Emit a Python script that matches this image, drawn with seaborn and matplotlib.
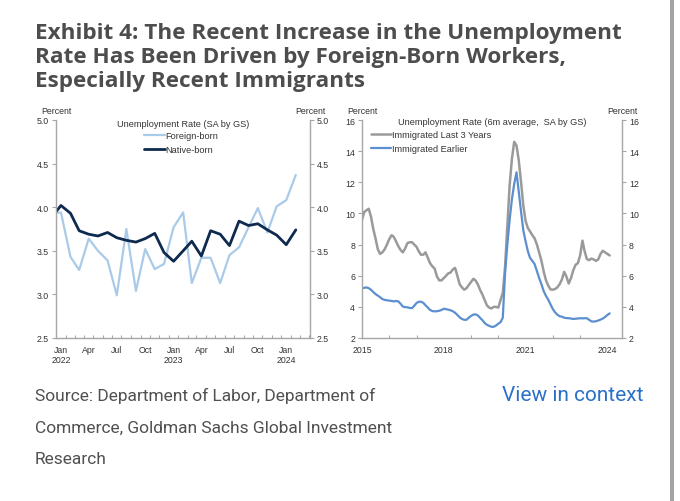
import numpy as np
import pandas as pd
import matplotlib
matplotlib.use("Agg")
import matplotlib.pyplot as plt
import matplotlib.dates as mdates
from matplotlib.patches import Rectangle
from matplotlib.ticker import FuncFormatter, FormatStrFormatter
import seaborn as sns

# ---- data: left panel (monthly, Dec 2021 - Feb 2024) ----
left_months = pd.date_range("2021-12-01", "2024-02-01", freq="MS")
foreign_born = [3.93,
                3.94, 3.43, 3.28, 3.64, 3.50, 3.39, 2.99, 3.75, 3.04, 3.52, 3.29, 3.35,
                3.77, 3.94, 3.13, 3.42, 3.42, 3.13, 3.45, 3.54, 3.77, 3.99, 3.71, 4.01,
                4.08, 4.37]
native_born = [3.88,
               4.02, 3.93, 3.73, 3.69, 3.67, 3.71, 3.65, 3.62, 3.60, 3.64, 3.70, 3.48,
               3.38, 3.50, 3.61, 3.44, 3.73, 3.69, 3.56, 3.84, 3.79, 3.81, 3.74, 3.68,
               3.57, 3.74]

# ---- data: right panel (6m average, Jan 2015 - Feb 2024) ----
right_months = pd.date_range("2015-01-01", "2024-02-01", freq="MS")
immigrated_recent = [
    9.6, 10.1, 10.2, 10.3, 9.8, 9.0, 8.4, 7.7, 7.4, 7.5, 7.7, 8.0,          # 2015
    8.35, 8.6, 8.5, 8.2, 7.9, 7.65, 7.5, 7.75, 8.1, 8.15, 8.15, 8.0,       # 2016
    7.85, 7.55, 7.35, 7.35, 7.5, 7.15, 6.8, 6.6, 6.45, 5.95, 5.7, 5.7,     # 2017
    5.85, 6.0, 6.15, 6.2, 6.4, 6.5, 6.0, 5.45, 5.25, 5.1, 5.2, 5.4,        # 2018
    5.6, 5.8, 5.7, 5.45, 5.1, 4.8, 4.45, 4.1, 3.95, 3.9, 4.0, 4.0,         # 2019
    3.95, 4.45, 4.9, 6.6, 9.2, 11.8, 13.5, 14.6, 14.35, 13.4, 12.0, 10.5,  # 2020
    9.5, 9.05, 8.85, 8.6, 8.4, 8.0, 7.5, 6.95, 6.25, 5.7, 5.35, 5.12,      # 2021
    5.1, 5.15, 5.25, 5.45, 5.75, 6.25, 5.95, 5.5, 5.85, 6.35, 6.7, 6.8,    # 2022
    7.3, 8.25, 7.6, 7.07, 7.0, 7.1, 7.05, 6.95, 7.05, 7.4, 7.6, 7.5,       # 2023
    7.4, 7.3]                                                              # 2024
immigrated_earlier = [
    5.2, 5.22, 5.25, 5.2, 5.1, 4.95, 4.82, 4.72, 4.62, 4.5, 4.45, 4.42,    # 2015
    4.4, 4.38, 4.35, 4.38, 4.35, 4.2, 4.02, 3.98, 3.97, 3.93, 3.92, 4.07,  # 2016
    4.25, 4.33, 4.33, 4.26, 4.1, 3.95, 3.8, 3.73, 3.71, 3.72, 3.75, 3.8,   # 2017
    3.88, 3.85, 3.82, 3.78, 3.72, 3.62, 3.48, 3.33, 3.22, 3.17, 3.17, 3.3, # 2018
    3.42, 3.5, 3.52, 3.45, 3.3, 3.15, 2.97, 2.85, 2.78, 2.72, 2.72, 2.8,   # 2019
    2.92, 3.02, 3.3, 6.2, 8.0, 9.6, 10.9, 11.9, 12.64, 11.4, 10.1, 8.9,    # 2020
    8.2, 7.55, 7.15, 6.95, 6.75, 6.3, 5.85, 5.45, 5.0, 4.7, 4.45, 4.15,    # 2021
    3.85, 3.64, 3.5, 3.4, 3.37, 3.3, 3.28, 3.27, 3.25, 3.22, 3.24, 3.25,   # 2022
    3.27, 3.26, 3.27, 3.27, 3.17, 3.07, 3.05, 3.08, 3.12, 3.18, 3.25, 3.35,# 2023
    3.48, 3.58]                                                            # 2024

left_yticks = [2.5, 3.0, 3.5, 4.0, 4.5, 5.0]
right_yticks = [2, 4, 6, 8, 10, 12, 14, 16]
right_year_labels = ["2015", "2018", "2021", "2024"]

title_lines = ["Exhibit 4: The Recent Increase in the Unemployment",
               "Rate Has Been Driven by Foreign-Born Workers,",
               "Especially Recent Immigrants"]
source_lines = ["Source: Department of Labor, Department of",
                "Commerce, Goldman Sachs Global Investment",
                "Research"]

sns.set_theme(style="white")
plt.rcParams["font.family"] = ["Liberation Sans", "DejaVu Sans"]

spine_c = "#a6a6a6"
text_c = "#333333"

fig = plt.figure(figsize=(6.8, 5.02), dpi=100)
W, H = 680, 502
ax1 = fig.add_axes([56 / W, 1 - 339 / H, 254 / W, 218 / H])
ax2 = fig.add_axes([362 / W, 1 - 339 / H, 260 / W, 218 / H])

left_df = pd.DataFrame({"month": left_months, "Foreign-born": foreign_born,
                        "Native-born": native_born})
right_df = pd.DataFrame({"month": right_months,
                         "Immigrated Last 3 Years": immigrated_recent,
                         "Immigrated Earlier": immigrated_earlier})

sns.lineplot(data=left_df, x="month", y="Foreign-born", ax=ax1, color="#a9cbe9",
             lw=1.6, label="Foreign-born")
sns.lineplot(data=left_df, x="month", y="Native-born", ax=ax1, color="#0e2a4f",
             lw=2.0, label="Native-born")
sns.lineplot(data=right_df, x="month", y="Immigrated Last 3 Years", ax=ax2,
             color="#9a9a9a", lw=1.8, label="Immigrated Last 3 Years")
sns.lineplot(data=right_df, x="month", y="Immigrated Earlier", ax=ax2,
             color="#5b8fcf", lw=1.6, label="Immigrated Earlier")

for ax in (ax1, ax2):
    ax.set_xlabel("")
    ax.set_ylabel("")
    ax.spines["top"].set_visible(False)
    for s in ("left", "right", "bottom"):
        ax.spines[s].set_color(spine_c)
        ax.spines[s].set_linewidth(1.0)
    ax.tick_params(axis="y", which="major", left=True, right=True,
                   labelleft=True, labelright=True, direction="out",
                   length=3, width=0.8, color=spine_c, labelsize=6.3,
                   labelcolor=text_c, pad=2)
    ax.tick_params(axis="x", which="major", length=0, labelsize=6.3,
                   labelcolor=text_c, pad=5)
    ax.tick_params(axis="x", which="minor", bottom=True, direction="in",
                   length=2.5, width=0.8, color=spine_c)
    ax.text(0.0, 1.045, "Percent", transform=ax.transAxes, ha="center",
            va="center", fontsize=6.3, color=text_c)
    ax.text(1.0, 1.045, "Percent", transform=ax.transAxes, ha="center",
            va="center", fontsize=6.3, color=text_c)

# left panel axes
ax1.set_ylim(2.5, 5.0)
ax1.set_yticks(left_yticks)
ax1.yaxis.set_major_formatter(FormatStrFormatter("%.1f"))
ax1.set_xlim(pd.Timestamp("2021-12-16"), pd.Timestamp("2024-03-18"))
ax1.xaxis.set_major_locator(mdates.MonthLocator(bymonth=[1, 4, 7, 10]))
ax1.xaxis.set_minor_locator(mdates.MonthLocator(bymonthday=16))
ax1.xaxis.set_major_formatter(FuncFormatter(
    lambda v, p: (mdates.num2date(v).strftime("%b\n%Y")
                  if mdates.num2date(v).month == 1
                  else mdates.num2date(v).strftime("%b"))))
ax1.text(0.5, 0.985, "Unemployment Rate (SA by GS)", transform=ax1.transAxes,
         ha="center", va="center", fontsize=6.6, color=text_c)
ax1.legend(loc="upper left", bbox_to_anchor=(0.345, 0.95), frameon=False,
           fontsize=6.6, handlelength=2.3, handletextpad=0.1, labelspacing=0.55,
           borderpad=0, borderaxespad=0, labelcolor=text_c)

# right panel axes
ax2.set_ylim(2, 16)
ax2.set_yticks(right_yticks)
ax2.set_xlim(pd.Timestamp("2015-01-01"), pd.Timestamp("2024-07-15"))
ax2.set_xticks(pd.to_datetime(right_year_labels))
ax2.set_xticklabels(right_year_labels)
ax2.xaxis.set_minor_locator(mdates.YearLocator(1))
ax2.text(0.5, 0.995, "Unemployment Rate (6m average,  SA by GS)",
         transform=ax2.transAxes, ha="center", va="center", fontsize=6.6,
         color=text_c)
ax2.legend(loc="upper left", bbox_to_anchor=(0.035, 0.955), frameon=False,
           fontsize=6.6, handlelength=2.2, handletextpad=0.1, labelspacing=0.55,
           borderpad=0, borderaxespad=0, labelcolor=text_c)

# header and footer text
for i, line in enumerate(title_lines):
    fig.text(35 / W, 1 - (39 + 24 * i) / H, line,
             family=["Open Sans", "DejaVu Sans"], fontweight="bold",
             fontsize=16.2, color="#4d4d4d", va="baseline")
for i, line in enumerate(source_lines):
    fig.text(35 / W, 1 - (401 + 31.5 * i) / H, line,
             family=["Roboto", "DejaVu Sans"], fontsize=12.5, color="#505050",
             va="baseline")
fig.text(502 / W, 1 - 401 / H, "View in context", family=["Roboto", "DejaVu Sans"],
         fontsize=15, color="#2a6fc9", va="baseline")

fig.add_artist(Rectangle((670 / W, 0), 4 / W, 1, transform=fig.transFigure,
                         color="#a3a3a3", lw=0))

fig.savefig("out.png", dpi=100, facecolor="white")
